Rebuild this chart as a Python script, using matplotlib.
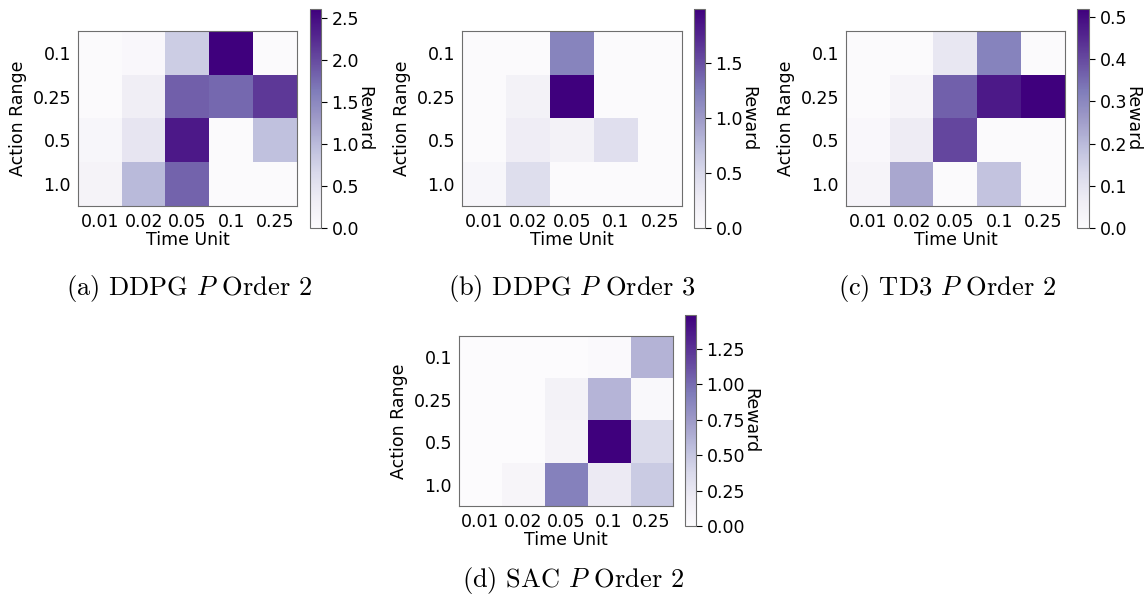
import numpy as np
import matplotlib
matplotlib.use("Agg")
import matplotlib.pyplot as plt

# Axis categories
time_units = ["0.01", "0.02", "0.05", "0.1", "0.25"]
action_ranges = ["0.1", "0.25", "0.5", "1.0"]

# Rewards (rows: action range, cols: time unit)
reward_ddpg_o2 = [
    [0.03, 0.08, 0.80, 2.61, 0.03],
    [0.02, 0.30, 1.85, 1.78, 2.15],
    [0.12, 0.45, 2.40, 0.02, 0.93],
    [0.18, 1.00, 1.82, 0.02, 0.02],
]
reward_ddpg_o3 = [
    [0.01, 0.01, 1.18, 0.01, 0.01],
    [0.01, 0.16, 1.99, 0.01, 0.01],
    [0.01, 0.24, 0.16, 0.42, 0.01],
    [0.08, 0.45, 0.01, 0.01, 0.01],
]
reward_td3_o2 = [
    [0.005, 0.005, 0.085, 0.31, 0.005],
    [0.005, 0.03, 0.365, 0.475, 0.519],
    [0.015, 0.065, 0.405, 0.005, 0.005],
    [0.03, 0.235, 0.005, 0.18, 0.005],
]
reward_sac_o2 = [
    [0.0, 0.0, 0.0, 0.02, 0.61],
    [0.0, 0.0, 0.12, 0.60, 0.04],
    [0.0, 0.0, 0.10, 1.49, 0.36],
    [0.0, 0.07, 0.90, 0.21, 0.47],
]

captions = [
    r"(a) DDPG $P$ Order 2",
    r"(b) DDPG $P$ Order 3",
    r"(c) TD3 $P$ Order 2",
    r"(d) SAC $P$ Order 2",
]

plt.rcParams["mathtext.fontset"] = "cm"
plt.rcParams["axes.edgecolor"] = "#6e6e6e"

W, H = 1146, 605
FS = 12.5
fig = plt.figure(figsize=(W / 100, H / 100), dpi=100)


def box(l, t, r, b):
    # pixel box -> figure fraction rect
    return [l / W, 1 - b / H, (r - l) / W, (b - t) / H]


def draw(data, ax_px, cb_px, cap_xy, caption):
    ax = fig.add_axes(box(*ax_px))
    cax = fig.add_axes(box(*cb_px))
    arr = np.array(data)
    im = ax.imshow(arr, cmap="Purples", vmin=0, vmax=arr.max(), aspect="auto")
    ax.set_xticks(range(len(time_units)))
    ax.set_xticklabels(time_units)
    ax.set_yticks(range(len(action_ranges)))
    ax.set_yticklabels(action_ranges)
    ax.tick_params(length=0, labelsize=FS, pad=5)
    ax.set_xlabel("Time Unit", fontsize=FS, labelpad=0)
    ax.set_ylabel("Action Range", fontsize=FS)
    cb = fig.colorbar(im, cax=cax)
    cb.ax.tick_params(labelsize=FS, length=4)
    cb.set_label("Reward", rotation=270, fontsize=FS, labelpad=10)
    fig.text(cap_xy[0] / W, 1 - cap_xy[1] / H, caption, family="cmr10",
             fontsize=19, ha="center", va="center")


draw(reward_ddpg_o2, (78, 31, 297, 206), (310, 9, 321, 228), (189, 288), captions[0])
draw(reward_ddpg_o3, (462, 31, 682, 206), (694, 9, 705, 228), (572, 288), captions[1])
draw(reward_td3_o2, (846, 31, 1065, 206), (1077, 9, 1089, 228), (947, 288), captions[2])
draw(reward_sac_o2, (459, 336, 673, 506), (685, 315, 696, 526), (573, 580), captions[3])

fig.savefig("out.png", dpi=100)
